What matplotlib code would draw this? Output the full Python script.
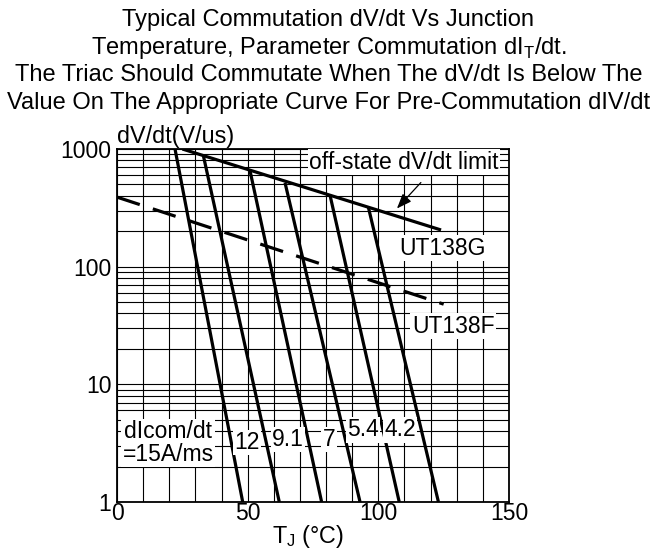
import numpy as np
import matplotlib
matplotlib.use('Agg')
import matplotlib.pyplot as plt

plt.rcParams['font.family'] = ['Liberation Sans', 'DejaVu Sans']
plt.rcParams['mathtext.fontset'] = 'custom'
plt.rcParams['mathtext.rm'] = 'Liberation Sans'

# Дані
# межа off-state dV/dt (UT138G)
limit_x = [25, 124]
limit_y = [1000, 205]
# UT138F (пунктир)
f_x = [0, 125]
f_y = [390, 48]
# криві dIcom/dt: підпис, верхня точка, x при dV/dt = 1
rates = ['15', '12', '9.1', '7', '5.4', '4.2']
top_x = [22.2, 33.0, 50.9, 64.3, 81.5, 96.2]
top_y = [1000, 888, 653, 516, 406, 319]
bottom_x = [48.1, 62.1, 78.3, 93.0, 108.0, 123.0]
# позиції підписів кривих
label_x = [49.7, 65.4, 81.1, 94.1, 108.3]
label_y = [3.2, 3.4, 3.4, 4.1, 4.1]

fig = plt.figure(figsize=(6.57, 5.51), dpi=100)
ax = fig.add_axes([117 / 657, 49 / 551, 392 / 657, 353 / 551])

ax.set_yscale('log')
ax.set_xlim(0, 150)
ax.set_ylim(1, 1000)
ax.set_xticks([0, 50, 100, 150])
ax.set_xticks(np.arange(0, 151, 10), minor=True)
ax.set_yticks([1, 10, 100, 1000])
ax.set_yticklabels(['1', '10', '100', '1000'])
ax.yaxis.set_minor_formatter(matplotlib.ticker.NullFormatter())
ax.tick_params(which='both', length=0, labelsize=16.5)
ax.tick_params(axis='x', pad=0)
ax.tick_params(axis='y', pad=4)
ax.grid(which='both', color='black', linewidth=0.8)
for s in ax.spines.values():
    s.set_linewidth(1.3)

# криві
for i in range(len(rates)):
    ax.plot([top_x[i], bottom_x[i]], [top_y[i], 1], color='black', lw=2.3,
            solid_capstyle='butt', zorder=4)
ax.plot(limit_x, limit_y, color='black', lw=2.3, solid_capstyle='butt', zorder=4)
ax.plot(f_x, f_y, color='black', lw=2.3, dashes=(7.5, 4.3), zorder=4)

box = dict(facecolor='white', edgecolor='none', pad=1)
fs = 16.5
ax.text(109.8, 770, 'off-state dV/dt limit', ha='center', va='center',
        fontsize=fs, bbox=box, zorder=5)
ax.annotate('', xy=(106.4, 300), xytext=(117, 540),
            arrowprops=dict(arrowstyle='-|>,head_length=0.9,head_width=0.35',
                            color='black', lw=0.9), zorder=5)
ax.text(124.4, 144, 'UT138G', ha='center', va='center', fontsize=fs,
        bbox=box, zorder=5)
ax.text(128.6, 31.3, 'UT138F', ha='center', va='center', fontsize=fs,
        bbox=box, zorder=5)
ax.text(19.5, 3.17, 'dIcom/dt\n=' + rates[0] + 'A/ms', ha='center', va='center',
        fontsize=fs, linespacing=1.0, bbox=box, zorder=5)
for i in range(1, len(rates)):
    ax.text(label_x[i - 1], label_y[i - 1], rates[i], ha='center', va='center',
            fontsize=fs, bbox=box, zorder=5)

title = ['Typical Commutation dV/dt Vs Junction',
         r'Temperature, Parameter Commutation dI$_\mathregular{T}$/dt.',
         'The Triac Should Commutate When The dV/dt Is Below The',
         'Value On The Appropriate Curve For Pre-Commutation dIV/dt']
for k, line in enumerate(title):
    fig.text(0.5, 1 - (20 + 27.5 * k) / 551, line, ha='center', va='center',
             fontsize=17)

fig.text(117 / 657, 1 - 136 / 551, 'dV/dt(V/us)', ha='left', va='center',
         fontsize=16.8)
fig.text(308 / 657, 1 - 537 / 551, r'T$_\mathregular{J}$ (°C)', ha='center',
         va='center', fontsize=16.8)

fig.savefig('out.png', dpi=100)
